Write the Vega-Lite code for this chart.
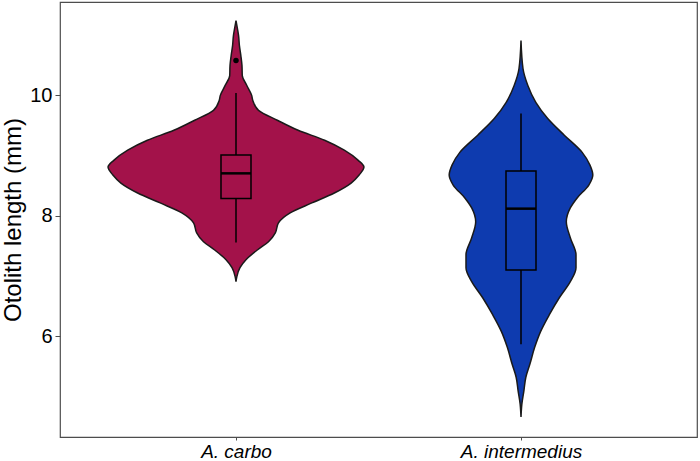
{
  "$schema": "https://vega.github.io/schema/vega-lite/v6.json",
  "width": 637,
  "height": 435,
  "autosize": {"type": "none"},
  "padding": {"left": 60, "top": 2, "right": 3, "bottom": 24},
  "background": "white",
  "config": {
    "view": {"stroke": "#4d4d4d", "strokeWidth": 1.2},
    "axis": {"grid": false, "domain": false, "tickColor": "#4d4d4d", "labelColor": "black", "labelFont": "Liberation Sans", "titleFont": "Liberation Sans"}
  },
  "datasets": {
    "violin": [
      {"species": "A. carbo", "length": 11.24, "lo": 1.0, "hi": 1.0},
      {"species": "A. carbo", "length": 11.107, "lo": 0.995, "hi": 1.005},
      {"species": "A. carbo", "length": 10.992, "lo": 0.991, "hi": 1.009},
      {"species": "A. carbo", "length": 10.826, "lo": 0.988, "hi": 1.012},
      {"species": "A. carbo", "length": 10.661, "lo": 0.983, "hi": 1.017},
      {"species": "A. carbo", "length": 10.496, "lo": 0.979, "hi": 1.021},
      {"species": "A. carbo", "length": 10.331, "lo": 0.978, "hi": 1.022},
      {"species": "A. carbo", "length": 10.165, "lo": 0.962, "hi": 1.038},
      {"species": "A. carbo", "length": 10.0, "lo": 0.945, "hi": 1.055},
      {"species": "A. carbo", "length": 9.917, "lo": 0.941, "hi": 1.059},
      {"species": "A. carbo", "length": 9.752, "lo": 0.921, "hi": 1.079},
      {"species": "A. carbo", "length": 9.587, "lo": 0.855, "hi": 1.145},
      {"species": "A. carbo", "length": 9.421, "lo": 0.782, "hi": 1.218},
      {"species": "A. carbo", "length": 9.256, "lo": 0.689, "hi": 1.311},
      {"species": "A. carbo", "length": 9.091, "lo": 0.62, "hi": 1.38},
      {"species": "A. carbo", "length": 8.926, "lo": 0.572, "hi": 1.428},
      {"species": "A. carbo", "length": 8.81, "lo": 0.551, "hi": 1.449},
      {"species": "A. carbo", "length": 8.678, "lo": 0.568, "hi": 1.432},
      {"species": "A. carbo", "length": 8.545, "lo": 0.596, "hi": 1.404},
      {"species": "A. carbo", "length": 8.38, "lo": 0.655, "hi": 1.345},
      {"species": "A. carbo", "length": 8.215, "lo": 0.734, "hi": 1.266},
      {"species": "A. carbo", "length": 8.05, "lo": 0.81, "hi": 1.19},
      {"species": "A. carbo", "length": 7.884, "lo": 0.851, "hi": 1.149},
      {"species": "A. carbo", "length": 7.719, "lo": 0.862, "hi": 1.138},
      {"species": "A. carbo", "length": 7.57, "lo": 0.886, "hi": 1.114},
      {"species": "A. carbo", "length": 7.438, "lo": 0.924, "hi": 1.076},
      {"species": "A. carbo", "length": 7.273, "lo": 0.965, "hi": 1.035},
      {"species": "A. carbo", "length": 7.14, "lo": 0.986, "hi": 1.014},
      {"species": "A. carbo", "length": 6.992, "lo": 0.997, "hi": 1.003},
      {"species": "A. carbo", "length": 6.909, "lo": 1.0, "hi": 1.0},
      {"species": "A. intermedius", "length": 10.909, "lo": 2.0, "hi": 2.0},
      {"species": "A. intermedius", "length": 10.446, "lo": 1.993, "hi": 2.007},
      {"species": "A. intermedius", "length": 10.165, "lo": 1.976, "hi": 2.024},
      {"species": "A. intermedius", "length": 9.884, "lo": 1.948, "hi": 2.052},
      {"species": "A. intermedius", "length": 9.62, "lo": 1.907, "hi": 2.093},
      {"species": "A. intermedius", "length": 9.339, "lo": 1.848, "hi": 2.152},
      {"species": "A. intermedius", "length": 9.058, "lo": 1.786, "hi": 2.214},
      {"species": "A. intermedius", "length": 8.843, "lo": 1.758, "hi": 2.242},
      {"species": "A. intermedius", "length": 8.678, "lo": 1.748, "hi": 2.252},
      {"species": "A. intermedius", "length": 8.512, "lo": 1.762, "hi": 2.238},
      {"species": "A. intermedius", "length": 8.298, "lo": 1.803, "hi": 2.197},
      {"species": "A. intermedius", "length": 8.132, "lo": 1.827, "hi": 2.173},
      {"species": "A. intermedius", "length": 7.901, "lo": 1.841, "hi": 2.159},
      {"species": "A. intermedius", "length": 7.636, "lo": 1.827, "hi": 2.173},
      {"species": "A. intermedius", "length": 7.355, "lo": 1.807, "hi": 2.193},
      {"species": "A. intermedius", "length": 7.14, "lo": 1.807, "hi": 2.193},
      {"species": "A. intermedius", "length": 6.909, "lo": 1.827, "hi": 2.173},
      {"species": "A. intermedius", "length": 6.645, "lo": 1.865, "hi": 2.135},
      {"species": "A. intermedius", "length": 6.364, "lo": 1.9, "hi": 2.1},
      {"species": "A. intermedius", "length": 6.083, "lo": 1.931, "hi": 2.069},
      {"species": "A. intermedius", "length": 5.818, "lo": 1.952, "hi": 2.048},
      {"species": "A. intermedius", "length": 5.537, "lo": 1.969, "hi": 2.031},
      {"species": "A. intermedius", "length": 5.322, "lo": 1.983, "hi": 2.017},
      {"species": "A. intermedius", "length": 5.091, "lo": 1.99, "hi": 2.01},
      {"species": "A. intermedius", "length": 4.876, "lo": 1.997, "hi": 2.003},
      {"species": "A. intermedius", "length": 4.661, "lo": 2.0, "hi": 2.0}
    ],
    "box": [
      {"species": "A. carbo", "pos": 1, "wlo": 7.56, "q1": 8.29, "med": 8.706, "q3": 9.01, "whi": 10.04},
      {"species": "A. intermedius", "pos": 2, "wlo": 5.87, "q1": 7.1, "med": 8.12, "q3": 8.744, "whi": 9.7}
    ],
    "outliers": [
      {"species": "A. carbo", "pos": 1, "length": 10.58}
    ]
  },
  "layer": [
    {
      "data": {"name": "violin"},
      "mark": {"type": "area", "orient": "horizontal", "interpolate": "monotone", "stroke": "#1a1a1a", "strokeWidth": 1.5, "opacity": 1},
      "encoding": {
        "y": {
          "field": "length", "type": "quantitative",
          "scale": {"domain": [4.33, 11.55], "nice": false, "zero": false},
          "axis": {"values": [6, 8, 10], "format": "d", "labelFontSize": 20, "title": "Otolith length (mm)", "titleFontSize": 24, "titleFontWeight": "normal", "titleColor": "black", "tickSize": 5, "labelPadding": 3, "titlePadding": 4}
        },
        "x": {
          "field": "lo", "type": "quantitative",
          "scale": {"domain": [0.4, 2.6], "nice": false, "zero": false},
          "axis": {"values": [1, 2], "labelExpr": "datum.value == 1 ? 'A. carbo' : 'A. intermedius'", "labelFontStyle": "italic", "labelFontSize": 19, "title": null, "tickSize": 3, "labelPadding": 2}
        },
        "x2": {"field": "hi"},
        "color": {"field": "species", "type": "nominal", "scale": {"domain": ["A. carbo", "A. intermedius"], "range": ["#A3124A", "#0E3BAF"]}, "legend": null}
      }
    },
    {
      "data": {"name": "box"},
      "mark": {"type": "rule", "color": "black", "strokeWidth": 1.5},
      "encoding": {
        "x": {"field": "pos", "type": "quantitative", "title": null},
        "y": {"field": "q3", "type": "quantitative", "title": "Otolith length (mm)"},
        "y2": {"field": "whi"}
      }
    },
    {
      "data": {"name": "box"},
      "mark": {"type": "rule", "color": "black", "strokeWidth": 1.5},
      "encoding": {
        "x": {"field": "pos", "type": "quantitative", "title": null},
        "y": {"field": "wlo", "type": "quantitative", "title": "Otolith length (mm)"},
        "y2": {"field": "q1"}
      }
    },
    {
      "data": {"name": "box"},
      "mark": {"type": "bar", "size": 30, "fillOpacity": 0, "stroke": "black", "strokeWidth": 1.5},
      "encoding": {
        "x": {"field": "pos", "type": "quantitative", "title": null},
        "y": {"field": "q1", "type": "quantitative", "title": "Otolith length (mm)"},
        "y2": {"field": "q3"}
      }
    },
    {
      "data": {"name": "box"},
      "mark": {"type": "tick", "orient": "horizontal", "size": 30, "thickness": 2.5, "color": "black", "opacity": 1},
      "encoding": {
        "x": {"field": "pos", "type": "quantitative", "title": null},
        "y": {"field": "med", "type": "quantitative", "title": "Otolith length (mm)"}
      }
    },
    {
      "data": {"name": "outliers"},
      "mark": {"type": "point", "filled": true, "color": "black", "size": 30, "opacity": 1},
      "encoding": {
        "x": {"field": "pos", "type": "quantitative", "title": null},
        "y": {"field": "length", "type": "quantitative", "title": "Otolith length (mm)"}
      }
    }
  ]
}
